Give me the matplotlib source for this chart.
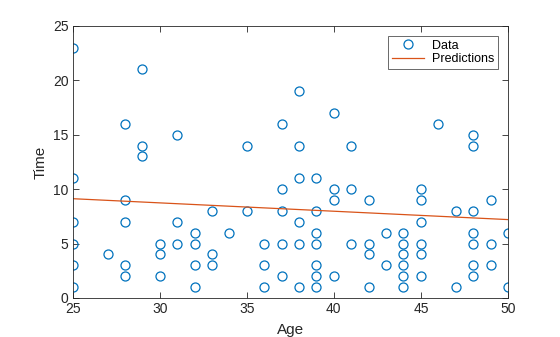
import matplotlib
matplotlib.use("Agg")
import matplotlib.pyplot as plt

plt.rcParams["font.family"] = ["Liberation Sans", "DejaVu Sans"]

# age -> observed times at that age
age = ([25] * 6 + [27] + [28] * 5 + [29] * 3 + [30] * 3 + [31] * 3 + [32] * 4 + [33] * 3
       + [34] + [35] * 2 + [36] * 3 + [37] * 5 + [38] * 6 + [39] * 7 + [40] * 4 + [41] * 3
       + [42] * 4 + [43] * 2 + [44] * 6 + [45] * 6 + [46] + [47] * 2 + [48] * 7 + [49] * 3
       + [50] * 2)
time = ([23, 11, 7, 5, 3, 1] + [4] + [16, 9, 7, 3, 2] + [21, 14, 13] + [5, 4, 2]
        + [15, 7, 5] + [6, 5, 3, 1] + [8, 4, 3] + [6] + [14, 8] + [5, 3, 1]
        + [16, 10, 8, 5, 2] + [19, 14, 11, 7, 5, 1] + [11, 8, 6, 5, 3, 2, 1]
        + [17, 10, 9, 2] + [14, 10, 5] + [9, 5, 4, 1] + [6, 3] + [6, 5, 4, 3, 2, 1]
        + [10, 9, 7, 5, 4, 2] + [16] + [8, 1] + [15, 14, 8, 6, 5, 3, 2] + [9, 5, 3]
        + [6, 1])

pred_x = [25, 50]
pred_y = [9.12, 7.2]

blue = "#0072BD"
orange = "#D95319"
ink = "#262626"

fig = plt.figure(figsize=(5.6, 3.37), dpi=100)
ax = fig.add_axes([0.13, 0.116, 0.777, 0.807])

ax.plot(age, time, "o", linestyle="none", markerfacecolor="none",
        markeredgecolor=blue, markersize=6.5, markeredgewidth=0.9, label="Data")
ax.plot(pred_x, pred_y, "-", color=orange, linewidth=0.9, label="Predictions")

ax.set_xlim(25, 50)
ax.set_ylim(0, 25)
ax.set_xticks(range(25, 51, 5))
ax.set_yticks(range(0, 26, 5))
ax.set_xlabel("Age", fontsize=11, color=ink, labelpad=5)
ax.set_ylabel("Time", fontsize=11, color=ink, labelpad=4)
ax.tick_params(direction="in", top=True, right=True, length=4, width=0.6,
               colors=ink, labelsize=10, pad=3)
for s in ax.spines.values():
    s.set_color(ink)
    s.set_linewidth(0.6)

leg = ax.legend(loc="upper right", fontsize=9, frameon=True, fancybox=False,
                borderpad=0.3, handlelength=2.6, handletextpad=0.6,
                labelspacing=0.1, borderaxespad=0.8)
leg.get_frame().set_edgecolor(ink)
leg.get_frame().set_linewidth(0.6)

fig.savefig("out.png", dpi=100)
